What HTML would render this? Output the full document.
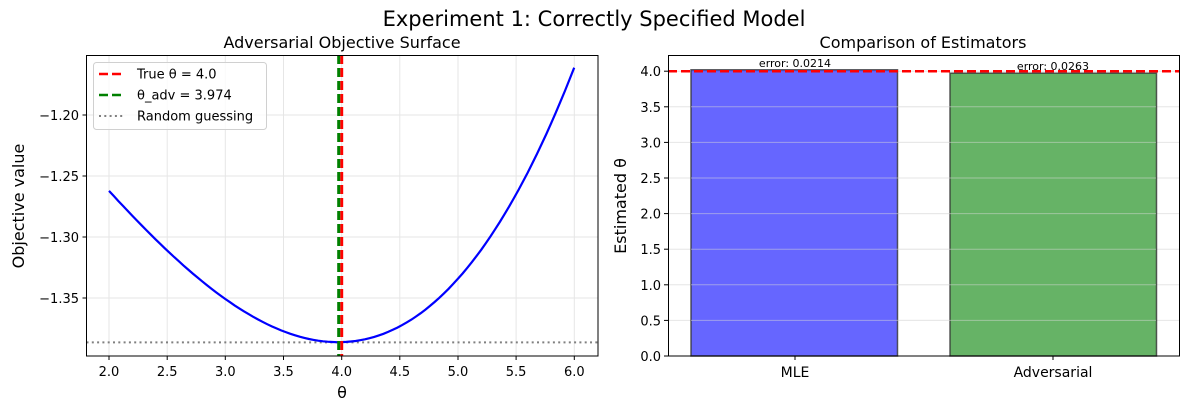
<!DOCTYPE html>
<html><head><meta charset="utf-8"><style>
html,body{margin:0;padding:0;background:#fff}
svg{display:block;font-family:"DejaVu Sans","Liberation Sans",sans-serif}
</style></head><body>
<svg width="1189" height="413" viewBox="0 0 1189 413" xmlns="http://www.w3.org/2000/svg">
<text x="594" y="26" font-size="21" text-anchor="middle">Experiment 1: Correctly Specified Model</text>
<!-- LEFT -->
<text x="342" y="48" font-size="16" text-anchor="middle">Adversarial Objective Surface</text>
<g stroke="#e6e6e6" stroke-width="1">
<line x1="109" y1="55" x2="109" y2="356"/><line x1="167.2" y1="55" x2="167.2" y2="356"/><line x1="225.3" y1="55" x2="225.3" y2="356"/><line x1="283.5" y1="55" x2="283.5" y2="356"/><line x1="341.7" y1="55" x2="341.7" y2="356"/><line x1="399.8" y1="55" x2="399.8" y2="356"/><line x1="458" y1="55" x2="458" y2="356"/><line x1="516.1" y1="55" x2="516.1" y2="356"/><line x1="574.3" y1="55" x2="574.3" y2="356"/>
<line x1="86.5" y1="115" x2="598" y2="115"/><line x1="86.5" y1="176" x2="598" y2="176"/><line x1="86.5" y1="237" x2="598" y2="237"/><line x1="86.5" y1="298" x2="598" y2="298"/>
</g>
<line x1="86.5" y1="342.4" x2="598" y2="342.4" stroke="#808080" stroke-width="2" stroke-dasharray="2,3.3"/>
<path id="curve" d="" fill="none" stroke="#0000ff" stroke-width="2.2"/>
<line x1="341.7" y1="55" x2="341.7" y2="356" stroke="#ff0000" stroke-width="3" stroke-dasharray="9,4"/>
<line x1="338.7" y1="55" x2="338.7" y2="356" stroke="#008000" stroke-width="3" stroke-dasharray="9,4"/>
<rect x="86.5" y="55.5" width="511.5" height="300.5" fill="none" stroke="#000" stroke-width="1"/>
<g font-size="13" text-anchor="middle">
<text x="109" y="376">2.0</text><text x="167.2" y="376">2.5</text><text x="225.3" y="376">3.0</text><text x="283.5" y="376">3.5</text><text x="341.7" y="376">4.0</text><text x="399.8" y="376">4.5</text><text x="458" y="376">5.0</text><text x="516.1" y="376">5.5</text><text x="574.3" y="376">6.0</text>
</g>
<g stroke="#000"><line x1="109" y1="356" x2="109" y2="360"/><line x1="167.2" y1="356" x2="167.2" y2="360"/><line x1="225.3" y1="356" x2="225.3" y2="360"/><line x1="283.5" y1="356" x2="283.5" y2="360"/><line x1="341.7" y1="356" x2="341.7" y2="360"/><line x1="399.8" y1="356" x2="399.8" y2="360"/><line x1="458" y1="356" x2="458" y2="360"/><line x1="516.1" y1="356" x2="516.1" y2="360"/><line x1="574.3" y1="356" x2="574.3" y2="360"/>
<line x1="82.5" y1="115" x2="86.5" y2="115"/><line x1="82.5" y1="176" x2="86.5" y2="176"/><line x1="82.5" y1="237" x2="86.5" y2="237"/><line x1="82.5" y1="298" x2="86.5" y2="298"/></g>
<g font-size="13" text-anchor="end">
<text x="79" y="120">−1.20</text><text x="79" y="181">−1.25</text><text x="79" y="242">−1.30</text><text x="79" y="303">−1.35</text>
</g>
<text x="342" y="398" font-size="16" text-anchor="middle">θ</text>
<text transform="translate(24,206) rotate(-90)" font-size="16" text-anchor="middle">Objective value</text>
<rect x="93.5" y="62.5" width="173" height="67" rx="3" fill="#fff" fill-opacity="0.8" stroke="#d0d0d0"/>
<line x1="99" y1="74" x2="124" y2="74" stroke="#ff0000" stroke-width="2.5" stroke-dasharray="9,4"/>
<line x1="99" y1="95" x2="124" y2="95" stroke="#008000" stroke-width="2.5" stroke-dasharray="9,4"/>
<line x1="99" y1="116" x2="124" y2="116" stroke="#808080" stroke-width="2" stroke-dasharray="2,3.3"/>
<g font-size="13"><text x="137" y="78.5">True θ = 4.0</text><text x="137" y="99.5">θ_adv = 3.974</text><text x="137" y="120.5">Random guessing</text></g>
<!-- RIGHT -->
<text x="923" y="48" font-size="16" text-anchor="middle">Comparison of Estimators</text>
<g stroke="#e6e6e6"><line x1="668" y1="320.4" x2="1179" y2="320.4"/><line x1="668" y1="284.8" x2="1179" y2="284.8"/><line x1="668" y1="249.2" x2="1179" y2="249.2"/><line x1="668" y1="213.6" x2="1179" y2="213.6"/><line x1="668" y1="178" x2="1179" y2="178"/><line x1="668" y1="142.4" x2="1179" y2="142.4"/><line x1="668" y1="106.8" x2="1179" y2="106.8"/><line x1="668" y1="71.2" x2="1179" y2="71.2"/></g>
<rect x="691" y="69.8" width="206.5" height="286.2" fill="#0000ff" fill-opacity="0.6" stroke="#333" stroke-opacity="0.8" stroke-width="1.5"/>
<rect x="950" y="73.2" width="206.5" height="282.8" fill="#008000" fill-opacity="0.6" stroke="#333" stroke-opacity="0.8" stroke-width="1.5"/>
<g stroke="#e6e6e6" stroke-opacity="0.5"><line x1="691" y1="320.4" x2="1156" y2="320.4"/><line x1="691" y1="284.8" x2="1156" y2="284.8"/><line x1="691" y1="249.2" x2="1156" y2="249.2"/><line x1="691" y1="213.6" x2="1156" y2="213.6"/><line x1="691" y1="178" x2="1156" y2="178"/><line x1="691" y1="142.4" x2="1156" y2="142.4"/><line x1="691" y1="106.8" x2="1156" y2="106.8"/></g>
<line x1="668" y1="71.2" x2="1179" y2="71.2" stroke="#ff0000" stroke-width="2.5" stroke-dasharray="9,4"/>
<g font-size="11" text-anchor="middle"><text x="795" y="67">error: 0.0214</text><text x="1053" y="70">error: 0.0263</text></g>
<rect x="668.5" y="55.5" width="511" height="300.5" fill="none" stroke="#000"/>
<g stroke="#000"><line x1="664" y1="356" x2="668" y2="356"/><line x1="664" y1="320.4" x2="668" y2="320.4"/><line x1="664" y1="284.8" x2="668" y2="284.8"/><line x1="664" y1="249.2" x2="668" y2="249.2"/><line x1="664" y1="213.6" x2="668" y2="213.6"/><line x1="664" y1="178" x2="668" y2="178"/><line x1="664" y1="142.4" x2="668" y2="142.4"/><line x1="664" y1="106.8" x2="668" y2="106.8"/><line x1="664" y1="71.2" x2="668" y2="71.2"/>
<line x1="795" y1="356" x2="795" y2="360"/><line x1="1053" y1="356" x2="1053" y2="360"/></g>
<g font-size="13" text-anchor="end"><text x="661" y="361">0.0</text><text x="661" y="325.4">0.5</text><text x="661" y="289.8">1.0</text><text x="661" y="254.2">1.5</text><text x="661" y="218.6">2.0</text><text x="661" y="183">2.5</text><text x="661" y="147.4">3.0</text><text x="661" y="111.8">3.5</text><text x="661" y="76.2">4.0</text></g>
<g font-size="14" text-anchor="middle"><text x="795" y="377">MLE</text><text x="1053" y="377">Adversarial</text></g>
<text transform="translate(626,206) rotate(-90)" font-size="16" text-anchor="middle">Estimated θ</text>
</svg>
<script>
var d="";for(var i=0;i<=100;i++){var t=2+4*i/100,u=t-3.97,f=-1.3862+0.0431*u*u+0.00566*u*u*u;var x=109+(t-2)*116.3,y=115+(-1.20-f)*1220;d+=(i?"L":"M")+x.toFixed(1)+","+y.toFixed(1);}document.getElementById("curve").setAttribute("d",d);
</script>
</body></html>
